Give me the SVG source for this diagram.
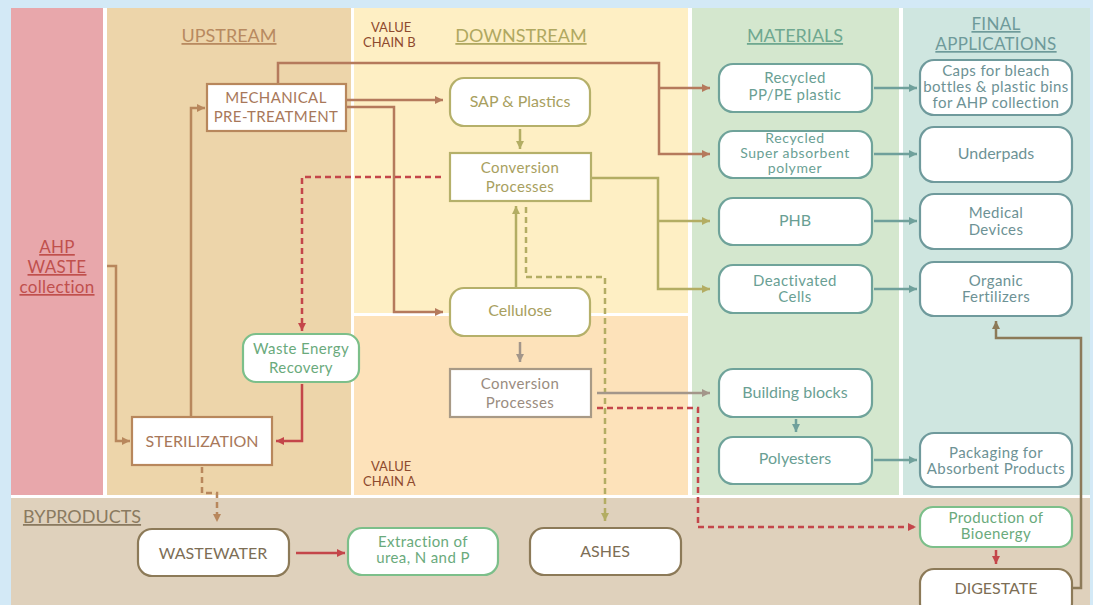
<svg xmlns="http://www.w3.org/2000/svg" width="1093" height="605" viewBox="0 0 1093 605">
<style>
text{font-family:Lato,"Open Sans","Liberation Sans",sans-serif;text-anchor:middle;}
.t{font-size:16px;}
.m{font-size:15px;letter-spacing:0.4px;}
.s{font-size:14px;letter-spacing:0.6px;}
.h{font-size:18px;text-decoration:underline;}
.h2{font-size:17px;letter-spacing:0.3px;text-decoration:underline;}
.vc{font-size:13px;fill:#8e4a2e;text-anchor:start;}
.box{fill:#fff;stroke-width:2.2;}
.ln{fill:none;stroke-width:2.5;}
.dash{stroke-dasharray:6,4;}
</style>
<defs>
<marker id="aBr" viewBox="0 0 10 10" refX="10" refY="5" markerWidth="8" markerHeight="8" markerUnits="userSpaceOnUse" orient="auto"><path d="M0,0L10,5L0,10z" fill="#b8875c"/></marker>
<marker id="aOr" viewBox="0 0 10 10" refX="10" refY="5" markerWidth="8" markerHeight="8" markerUnits="userSpaceOnUse" orient="auto"><path d="M0,0L10,5L0,10z" fill="#b57a5c"/></marker>
<marker id="aOl" viewBox="0 0 10 10" refX="10" refY="5" markerWidth="8" markerHeight="8" markerUnits="userSpaceOnUse" orient="auto"><path d="M0,0L10,5L0,10z" fill="#b3ad63"/></marker>
<marker id="aRd" viewBox="0 0 10 10" refX="10" refY="5" markerWidth="8" markerHeight="8" markerUnits="userSpaceOnUse" orient="auto"><path d="M0,0L10,5L0,10z" fill="#c4464a"/></marker>
<marker id="aTl" viewBox="0 0 10 10" refX="10" refY="5" markerWidth="8" markerHeight="8" markerUnits="userSpaceOnUse" orient="auto"><path d="M0,0L10,5L0,10z" fill="#6fa09b"/></marker>
<marker id="aGy" viewBox="0 0 10 10" refX="10" refY="5" markerWidth="8" markerHeight="8" markerUnits="userSpaceOnUse" orient="auto"><path d="M0,0L10,5L0,10z" fill="#a3968a"/></marker>
<marker id="aBp" viewBox="0 0 10 10" refX="10" refY="5" markerWidth="8" markerHeight="8" markerUnits="userSpaceOnUse" orient="auto"><path d="M0,0L10,5L0,10z" fill="#8c7a58"/></marker>
</defs>
<rect x="0" y="0" width="1093" height="605" fill="#d3e9f6"/>
<rect x="11" y="8" width="1079" height="597" fill="#fff"/>
<g id="panels">
<rect x="11" y="8" width="92" height="487" fill="#e8a7ab"/>
<rect x="107" y="8" width="244" height="487" fill="#edd5aa"/>
<rect x="354" y="8" width="334" height="305" fill="#feefc4"/>
<rect x="354" y="316" width="334" height="179" fill="#fde2ba"/>
<rect x="692" y="8" width="207" height="487" fill="#d4e7ce"/>
<rect x="903" y="8" width="187" height="487" fill="#cfe6e0"/>
<rect x="11" y="498" width="1079" height="107" fill="#dfd1bc"/>
</g>
<g id="headings">
<text class="h2" x="57" y="253" fill="#c0504d">AHP</text>
<text class="h2" x="57" y="273" fill="#c0504d">WASTE</text>
<text class="h2" x="57" y="293" fill="#c0504d">collection</text>
<text class="h" x="229" y="42" fill="#b88a60">UPSTREAM</text>
<text class="h" x="521" y="42" fill="#b0a860">DOWNSTREAM</text>
<text class="h" x="795" y="42" fill="#6fa890">MATERIALS</text>
<text class="h2" x="996" y="30" fill="#6e9a9a">FINAL</text>
<text class="h2" x="996" y="50" fill="#6e9a9a">APPLICATIONS</text>
<text class="h" x="82" y="523" fill="#8a7a60">BYPRODUCTS</text>
<text class="vc" x="371" y="32">VALUE</text>
<text class="vc" x="363" y="47">CHAIN B</text>
<text class="vc" x="371" y="471">VALUE</text>
<text class="vc" x="363" y="486">CHAIN A</text>
</g>
<g id="connectors">
<path class="ln" stroke="#b8875c" d="M107,266H116V441H130" marker-end="url(#aBr)"/>
<path class="ln" stroke="#b8875c" d="M191,417V108H205" marker-end="url(#aBr)"/>
<path class="ln" stroke="#b57a5c" d="M278,84V63H659V154H710" marker-end="url(#aOr)"/>
<path class="ln" stroke="#b57a5c" d="M659,88H710" marker-end="url(#aOr)"/>
<path class="ln" stroke="#b57a5c" d="M346,100H443" marker-end="url(#aOr)"/>
<path class="ln" stroke="#b57a5c" d="M346,107H394V312H443" marker-end="url(#aOr)"/>
<path class="ln" stroke="#b3ad63" d="M520,129V149" marker-end="url(#aOl)"/>
<path class="ln" stroke="#b3ad63" d="M516,288V206" marker-end="url(#aOl)"/>
<path class="ln dash" stroke="#b3ad63" d="M526,207V277H605V521" marker-end="url(#aOl)"/>
<path class="ln" stroke="#b3ad63" d="M591,178H658V289H710" marker-end="url(#aOl)"/>
<path class="ln" stroke="#b3ad63" d="M658,221H710" marker-end="url(#aOl)"/>
<path class="ln dash" stroke="#c4464a" d="M441,177H302V331" marker-end="url(#aRd)"/>
<path class="ln" stroke="#c4464a" d="M302,384V441H276" marker-end="url(#aRd)"/>
<path class="ln" stroke="#a3968a" d="M520,342V362" marker-end="url(#aGy)"/>
<path class="ln" stroke="#a3968a" d="M597,393H710" marker-end="url(#aGy)"/>
<path class="ln dash" stroke="#c4464a" d="M597,408H698V527H916" marker-end="url(#aRd)"/>
<path class="ln dash" stroke="#b8875c" d="M202,467V493H217V522" marker-end="url(#aBr)"/>
<path class="ln" stroke="#c4464a" d="M296,553H345" marker-end="url(#aRd)"/>
<path class="ln" stroke="#6fa09b" d="M796,419V432" marker-end="url(#aTl)"/>
<path class="ln" stroke="#6fa09b" d="M874,88H917" marker-end="url(#aTl)"/>
<path class="ln" stroke="#6fa09b" d="M874,154H917" marker-end="url(#aTl)"/>
<path class="ln" stroke="#6fa09b" d="M874,221H917" marker-end="url(#aTl)"/>
<path class="ln" stroke="#6fa09b" d="M874,289H917" marker-end="url(#aTl)"/>
<path class="ln" stroke="#6fa09b" d="M874,460H917" marker-end="url(#aTl)"/>
<path class="ln" stroke="#c4464a" d="M996,550V564" marker-end="url(#aRd)"/>
<path class="ln" stroke="#8c7a58" d="M1072,588H1081V338H996V321" marker-end="url(#aBp)"/>
</g>
<g id="mech"><rect class="box" x="207" y="84" width="139" height="47" stroke="#b8875c"/><text class="m" x="276" y="103" fill="#a8785a">MECHANICAL</text><text class="m" x="276" y="122" fill="#a8785a">PRE-TREATMENT</text></g>
<g id="steril"><rect class="box" x="132" y="417" width="140" height="48" stroke="#b8875c"/><text class="t" x="202" y="447" fill="#a8785a">STERILIZATION</text></g>
<g id="wer"><rect class="box" x="243" y="334" width="116" height="48" rx="13" stroke="#7cbf8a"/><text class="m" x="301" y="354" fill="#6aaa7c">Waste Energy</text><text class="m" x="301" y="373" fill="#6aaa7c">Recovery</text></g>
<g id="sap"><rect class="box" x="450" y="78" width="140" height="48" rx="14" stroke="#b5b06a"/><text class="t" x="520" y="107" fill="#a8a060">SAP &amp; Plastics</text></g>
<g id="convB"><rect class="box" x="450" y="153" width="141" height="48" stroke="#b5b06a"/><text class="m" x="520" y="173" fill="#a8a060">Conversion</text><text class="m" x="520" y="192" fill="#a8a060">Processes</text></g>
<g id="cellulose"><rect class="box" x="450" y="288" width="140" height="48" rx="14" stroke="#b5b06a"/><text class="t" x="520" y="316" fill="#a8a060">Cellulose</text></g>
<g id="convA"><rect class="box" x="450" y="369" width="141" height="48" stroke="#a89a86"/><text class="m" x="520" y="389" fill="#9a8c80">Conversion</text><text class="m" x="520" y="408" fill="#9a8c80">Processes</text></g>
<g id="pppe"><rect class="box" x="719" y="64" width="153" height="48" rx="14" stroke="#6fa39a"/><text class="m" x="795" y="83" fill="#6a9f94">Recycled</text><text class="m" x="795" y="100" fill="#6a9f94">PP/PE plastic</text></g>
<g id="sapm"><rect class="box" x="719" y="131" width="153" height="47" rx="14" stroke="#6fa39a"/><text class="s" x="795" y="143" fill="#6a9f94">Recycled</text><text class="s" x="795" y="158" fill="#6a9f94">Super absorbent</text><text class="s" x="795" y="173" fill="#6a9f94">polymer</text></g>
<g id="phb"><rect class="box" x="719" y="198" width="153" height="47" rx="14" stroke="#6fa39a"/><text class="t" x="795" y="226" fill="#6a9f94">PHB</text></g>
<g id="cells"><rect class="box" x="719" y="265" width="153" height="48" rx="14" stroke="#6fa39a"/><text class="m" x="795" y="286" fill="#6a9f94">Deactivated</text><text class="m" x="795" y="302" fill="#6a9f94">Cells</text></g>
<g id="bb"><rect class="box" x="719" y="369" width="153" height="48" rx="14" stroke="#6fa39a"/><text class="t" x="795" y="398" fill="#6a9f94">Building blocks</text></g>
<g id="poly"><rect class="box" x="719" y="437" width="153" height="47" rx="14" stroke="#6fa39a"/><text class="t" x="795" y="464" fill="#6a9f94">Polyesters</text></g>
<g id="caps"><rect class="box" x="920" y="60" width="152" height="55" rx="14" stroke="#6f9a9c"/><text class="m" x="996" y="76" fill="#6d9295">Caps for bleach</text><text class="m" x="996" y="92" fill="#6d9295">bottles &amp; plastic bins</text><text class="m" x="996" y="108" fill="#6d9295">for AHP collection</text></g>
<g id="underpads"><rect class="box" x="920" y="127" width="152" height="55" rx="14" stroke="#6f9a9c"/><text class="t" x="996" y="159" fill="#6d9295">Underpads</text></g>
<g id="medical"><rect class="box" x="920" y="194" width="152" height="55" rx="14" stroke="#6f9a9c"/><text class="m" x="996" y="218" fill="#6d9295">Medical</text><text class="m" x="996" y="235" fill="#6d9295">Devices</text></g>
<g id="fert"><rect class="box" x="920" y="262" width="152" height="54" rx="14" stroke="#6f9a9c"/><text class="m" x="996" y="286" fill="#6d9295">Organic</text><text class="m" x="996" y="302" fill="#6d9295">Fertilizers</text></g>
<g id="pack"><rect class="box" x="920" y="433" width="152" height="54" rx="14" stroke="#6f9a9c"/><text class="m" x="996" y="458" fill="#6d9295">Packaging for</text><text class="m" x="996" y="474" fill="#6d9295">Absorbent Products</text></g>
<g id="bioenergy"><rect class="box" x="920" y="507" width="152" height="40" rx="13" stroke="#7cbf8a"/><text class="m" x="996" y="523" fill="#6aaa7c">Production of</text><text class="m" x="996" y="539" fill="#6aaa7c">Bioenergy</text></g>
<g id="digestate"><rect class="box" x="920" y="569" width="152" height="48" rx="14" stroke="#8c7a58"/><text class="t" x="996" y="594" fill="#7d6e55">DIGESTATE</text></g>
<g id="wastewater"><rect class="box" x="138" y="529" width="151" height="47" rx="14" stroke="#8c7a58"/><text class="t" x="213" y="559" fill="#7d6e55">WASTEWATER</text></g>
<g id="extraction"><rect class="box" x="348" y="528" width="150" height="47" rx="14" stroke="#7cbf8a"/><text class="m" x="423" y="547" fill="#6aaa7c">Extraction of</text><text class="m" x="423" y="563" fill="#6aaa7c">urea, N and P</text></g>
<g id="ashes"><rect class="box" x="530" y="528" width="151" height="47" rx="14" stroke="#8c7a58"/><text class="t" x="605" y="557" fill="#7d6e55">ASHES</text></g>
</svg>
